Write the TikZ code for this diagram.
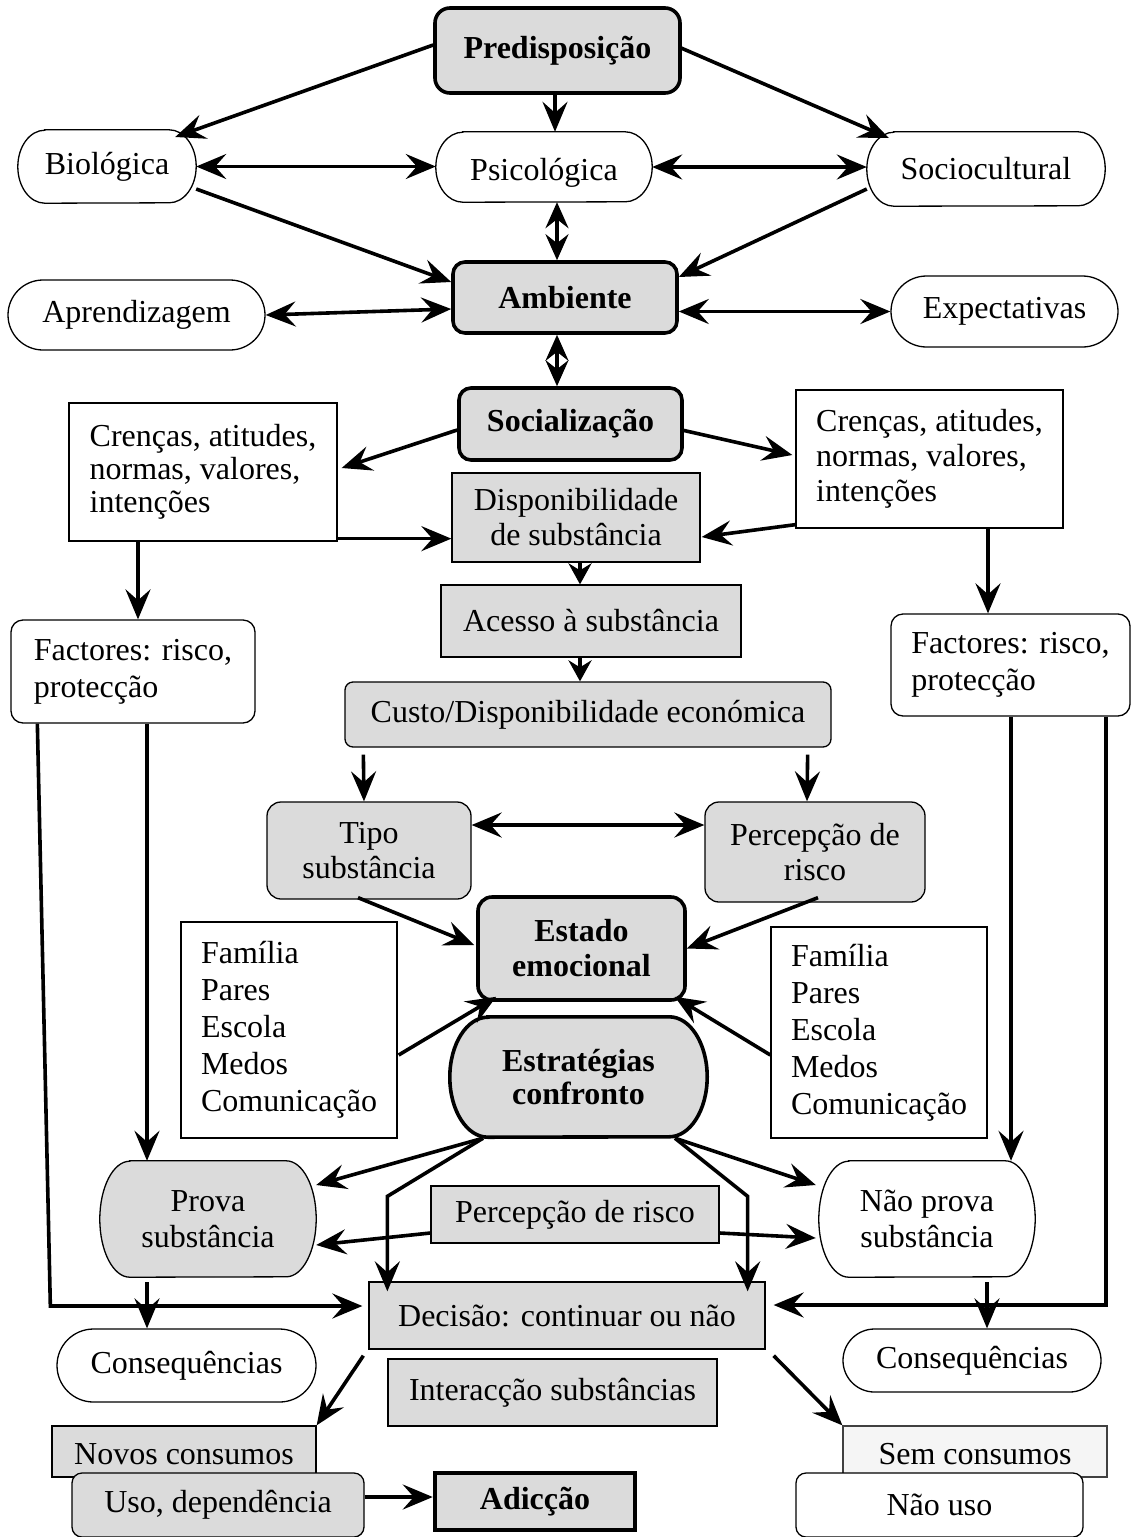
\documentclass[tikz,border=0pt]{standalone}
\usepackage{fontspec}
\setmainfont{Liberation Serif}
\usetikzlibrary{arrows.meta,shapes.misc}
\pgfdeclarelayer{background}
\pgfsetlayers{background,main}

% outline with half-ellipse ends round a named node
\newcommand{\capsule}[4][]{%
  \begin{pgfonlayer}{background}
    \path[#1] ([xshift=#3pt]#2.north west) -- ([xshift=-#3pt]#2.north east)
      arc[start angle=-90, end angle=90, x radius=#3, y radius=#4]
      -- ([xshift=#3pt]#2.south west)
      arc[start angle=90, end angle=270, x radius=#3, y radius=#4] -- cycle;
  \end{pgfonlayer}}

\begin{document}
\begin{tikzpicture}[x=1pt,y=-1pt,
        txt/.style={font=\fontsize{32}{35}\selectfont},
        box/.style 2 args={draw=black, line width=1.3pt, inner sep=0pt,
            minimum width=#1pt, minimum height=#2pt, align=center, txt},
        bare/.style 2 args={inner sep=0pt, minimum width=#1pt, minimum height=#2pt,
            align=center, txt},
        grey/.style={fill=black!14},
        heavy/.style={line width=3.6pt, font=\fontsize{32}{35}\selectfont\bfseries},
        thin/.style={draw=black, line width=1.3pt},
        pill/.style={rounded rectangle},
        arr/.style={line width=3.6pt, -{Stealth[length=30pt,width=25pt,inset=11pt]}},
        darr/.style={line width=3.6pt,
            {Stealth[length=30pt,width=25pt,inset=11pt]}-{Stealth[length=30pt,width=25pt,inset=11pt]}},
        sarr/.style={line width=3.6pt, -{Stealth[length=21pt,width=23pt,inset=7pt]}},
        sdarr/.style={line width=3.6pt,
            {Stealth[length=26pt,width=23pt,inset=9pt]}-{Stealth[length=26pt,width=23pt,inset=9pt]}}]
    \useasboundingbox (0,0) rectangle (1132,1537);
    %top
    \node[box={245}{85}, grey, heavy, rounded corners=15pt] (pred) at (557.5,50.5) {Predisposição};
    \node[bare={178}{73}] (bio) at (107,166.5) {Biológica};
    \node[bare={216}{70}, text height=34pt, text depth=7pt] (psi) at (544,167) {Psicológica};
    \node[bare={238}{74}] (soc) at (986,169) {Sociocultural};
    \capsule[thin, fill=white]{bio}{27}{36.5}
    \capsule[thin, fill=white]{psi}{27}{35}
    \capsule[thin, fill=white]{soc}{27}{37}
    %ambiente
    \node[box={224}{71}, grey, heavy, rounded corners=12pt] (amb) at (565,297.5) {Ambiente};
    \node[box={257}{70}, pill] (apr) at (136.5,315) {Aprendizagem};
    \node[box={227}{71}, pill] (expc) at (1004.5,311.5) {Expectativas};
    \node[box={223}{72}, grey, heavy, rounded corners=12pt] (socz) at (570.5,424) {Socialização};
    %crencas
    \node[box={268}{138}, align=left, font=\fontsize{32}{33}\selectfont] (crL) at (203,472)
        {Crenças, atitudes,\\normas, valores,\\intenções};
    \node[box={267}{138}, align=left] (crR) at (929.5,459)
        {Crenças, atitudes,\\normas, valores,\\intenções};
    \node[box={248}{89}, grey] (disp) at (576,517.5)
        {Disponibilidade\\de substância};
    \node[box={300}{72}, grey] (acc) at (591,621) {Acesso à substância};
    \node[box={486}{65}, grey, rounded corners=8pt] (cust) at (588,714.5) {Custo/Disponibilidade económica};
    %factores
    \node[box={244}{103}, rounded corners=12pt, align=left, font=\fontsize{32}{37}\selectfont]
        (facL) at (133,671.5) {Factores: risco,\\protecção};
    \node[box={239}{102}, rounded corners=12pt, align=left, font=\fontsize{32}{37}\selectfont]
        (facR) at (1010.5,665) {Factores: risco,\\protecção};
    %middle
    \node[box={204}{97}, grey, rounded corners=14pt] (tipo) at (369,850.5) {Tipo\\substância};
    \node[box={220}{100}, grey, rounded corners=14pt] (perc) at (815,852) {Percepção de\\risco};
    \node[box={207}{103}, grey, heavy, rounded corners=14pt] (est) at (581.5,948.5) {Estado\\emocional};
    \node[box={216}{216}, align=left, font=\fontsize{32}{37}\selectfont] (famL) at (289,1030)
        {Família\\Pares\\Escola\\Medos\\Comunicação};
    \node[box={216}{211}, align=left, font=\fontsize{32}{37}\selectfont] (famR) at (879,1032.5)
        {Família\\Pares\\Escola\\Medos\\Comunicação};
    \node[bare={257}{120}, font=\fontsize{32}{33}\selectfont\bfseries]
        (estr) at (578.5,1077) {Estratégias\\confronto};
    \capsule[draw=black, line width=3.6pt, grey]{estr}{38}{60}
    %prova
    \node[bare={216}{116}, font=\fontsize{32}{36}\selectfont] (prova) at (208,1219)
        {Prova\\substância};
    \node[bare={216}{116}, font=\fontsize{32}{36}\selectfont] (naop) at (927,1219)
        {Não prova\\substância};
    \capsule[thin, grey]{prova}{30}{58}
    \capsule[thin, fill=white]{naop}{30}{58}
    \node[box={288}{57}, grey] (percL) at (575,1214.5) {Percepção de risco};
    \node[box={396}{67}, grey] (dec) at (567,1315.5) {Decisão: continuar ou não};
    \node[box={259}{73}, pill] (conL) at (186.5,1365.5) {Consequências};
    \node[box={258}{63}, pill] (conR) at (972,1360.5) {Consequências};
    \node[box={329}{67}, grey] (inter) at (552.5,1392.5) {Interacção substâncias};
    %bottom
    \node[box={264}{51}, grey, text height=27pt] (novos) at (184,1451.5) {Novos consumos};
    \node[box={264}{51}, fill=black!4, draw=black!75, text height=27pt] (sem) at (975,1451.5) {Sem consumos};
    \node[box={292}{64}, grey, rounded corners=10pt] (uso) at (218,1505) {Uso, dependência};
    \node[box={287}{64}, fill=white, rounded corners=10pt] (naou) at (939.5,1505) {Não uso};
    \node[box={200}{57}, grey, heavy, line width=4.5pt] (adi) at (535,1501.5) {Adicção};
    %arrows top
    \draw[arr] ([shift={(0,-5.5)}]pred.west) -- ([shift={(-21,-29.5)}]bio.east);
    \draw[arr] ([xshift=-2.5pt]pred.south) -- ([xshift=11pt]psi.north);
    \draw[arr] ([shift={(-3,-3.5)}]pred.east) -- ([shift={(22,-31)}]soc.west);
    \draw[darr] (bio.east) -- (bio.east -| psi.west);
    \draw[darr] (psi.east) -- (psi.east -| soc.west);
    \draw[sdarr] ([xshift=13pt]psi.south) -- ([xshift=-8pt]amb.north);
    \draw[arr] ([shift={(0,22.5)}]bio.east) -- ([shift={(0,-15.5)}]amb.west);
    \draw[arr] ([shift={(0,20)}]soc.west) -- ([shift={(0,-20.5)}]amb.east);
    \draw[darr] ([shift={(0,11.5)}]amb.west) -- (apr.east);
    \coordinate (ae) at (amb.east |- expc.west);
    \draw[darr] (ae) -- (expc.west);
    \draw[sdarr] ([xshift=-8pt]amb.south) -- ([xshift=-13.5pt]socz.north);
    %arrows socializacao
    \draw[arr] ([shift={(0,6)}]socz.west) -- ([shift={(4,-4)}]crL.east);
    \draw[arr] ([shift={(-2,6)}]socz.east) -- ([shift={(-3,-4)}]crR.west);
    \coordinate (cl) at ([shift={(0,-3)}]crL.south east);
    \draw[arr] (cl) -- (cl -| disp.west);
    \draw[arr] ([shift={(0,-4)}]crR.south west) -- ([shift={(1,19.5)}]disp.east);
    \draw[sarr] ([xshift=4pt]disp.south) -- ([xshift=-11pt]acc.north);
    \draw[sarr] ([xshift=-11pt]acc.south) -- ([xshift=-8pt]cust.north);
    \draw[arr] ([xshift=-65pt]crL.south) -- ([xshift=5pt]facL.north);
    \draw[arr] ([xshift=58.5pt]crR.south) -- ([xshift=-22.5pt]facR.north);
    %arrows middle
    \draw[arr] ([shift={(19,7)}]cust.south west) -- ([xshift=-5pt]tipo.north);
    \draw[arr] ([shift={(-24,7)}]cust.south east) -- ([xshift=-8pt]perc.north);
    \coordinate (te) at ([shift={(0,-25.5)}]tipo.east);
    \draw[darr] (te) -- (te -| perc.west);
    \draw[arr] ([shift={(-11,-2)}]tipo.south) -- ([shift={(-2,-3.5)}]est.west);
    \draw[arr] ([shift={(3,-5)}]perc.south) -- (est.east);
    \draw[arr] ([shift={(1,25)}]famL.east) -- ([shift={(20,-5)}]est.south west);
    \draw[arr] ([shift={(0,22.5)}]famR.west) -- ([shift={(-12,-5)}]est.south east);
    %arrows estrategias
    \coordinate (sl) at ([shift={(-95.5,1)}]estr.south);
    \coordinate (sr) at ([shift={(96.5,1)}]estr.south);
    \draw[arr] (sl) -- ([shift={(0,-34)}]prova.east);
    \draw[arr] (sl) -- ([shift={(19,-85)}]dec.north west) -- ([shift={(19,10)}]dec.north west);
    \draw[arr] (sr) -- ([shift={(-3,-34)}]naop.west);
    \draw[arr] (sr) -- ([shift={(-18,-85)}]dec.north east) -- ([shift={(-18,10)}]dec.north east);
    \draw[arr] ([shift={(0,18.5)}]percL.west) -- ([shift={(0,26)}]prova.east);
    \draw[arr] ([shift={(0,18.5)}]percL.east) -- ([shift={(-3,19)}]naop.west);
    %side lines
    \coordinate (dw) at ([shift={(-6,-9.5)}]dec.west);
    \coordinate (fa) at ([xshift=27pt]facL.south west);
    \coordinate (fb) at ([xshift=40pt]facL.south west);
    \draw[arr] (fa) -- (fb |- dw) -- (dw);
    \coordinate (fc) at ([xshift=14pt]facL.south);
    \draw[arr] (fc) -- (fc |- prova.north);
    \coordinate (fd) at ([xshift=0.5pt]facR.south);
    \draw[arr] (fd) -- (fd |- naop.north);
    \coordinate (de) at ([shift={(8,-10.5)}]dec.east);
    \coordinate (fe) at ([xshift=-24.5pt]facR.south east);
    \draw[arr] (fe) -- (fe |- de) -- (de);
    %arrows bottom
    \coordinate (pb) at ([shift={(-61,5)}]prova.south);
    \draw[arr] (pb) -- (pb |- conL.north);
    \coordinate (nb) at ([shift={(60,5)}]naop.south);
    \draw[arr] (nb) -- (nb |- conR.north);
    \draw[arr] ([shift={(-5,6)}]dec.south west) -- (novos.north east);
    \draw[arr] ([shift={(8,6)}]dec.south east) -- (sem.north west);
    \coordinate (ua) at ([shift={(0,-8)}]uso.east);
    \draw[arr] (ua) -- (ua -| adi.west);
\end{tikzpicture}
\end{document}
